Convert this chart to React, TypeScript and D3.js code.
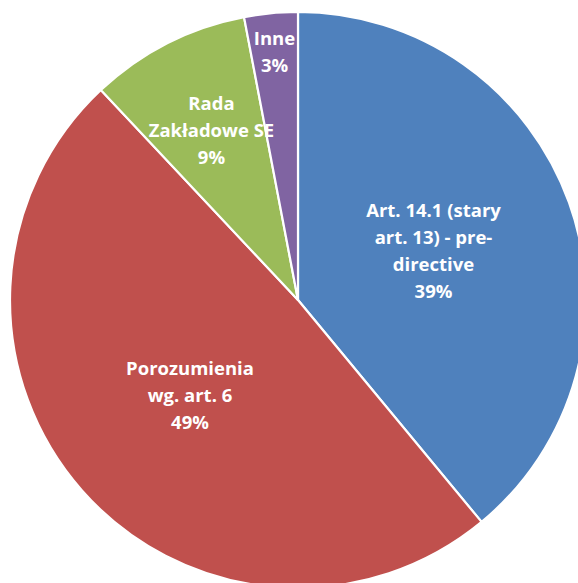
import React from "react";
import * as d3 from "d3";

// ---- data ----
const categories = [
  "Art. 14.1 (stary art. 13) - pre-directive",
  "Porozumienia wg. art. 6",
  "Rada Zakładowe SE",
  "Inne",
];
const values = [39, 49, 9, 3];
const labelLines = [
  ["Art. 14.1 (stary", "art. 13) - pre-", "directive"],
  ["Porozumienia", "wg. art. 6"],
  ["Rada", "Zakładowe SE"],
  ["Inne"],
];

// ---- style / layout ----
const colors = ["#4F81BD", "#C0504D", "#9BBB59", "#8064A2"];
const labelRadiusFraction = [0.5, 0.5, 0.662, 0.867];
const W = 578;
const H = 583;
const CX = 298;
const CY = 300;
const R = 288;
const LINE_H = 27;

export default function App() {
  const total = d3.sum(values);
  const pie = d3
    .pie<number>()
    .sort(null)
    .value((d) => d)
    .startAngle(0)
    .endAngle(2 * Math.PI);
  const arcs = pie(values);
  const arcGen = d3.arc<d3.PieArcDatum<number>>().innerRadius(0).outerRadius(R);
  const fmt = d3.format(".0%");

  return (
    <svg
      width={W}
      height={H}
      style={{ position: "absolute", left: 0, top: 0, display: "block" }}
      fontFamily="'Open Sans', sans-serif"
    >
      <rect width={W} height={H} fill="#ffffff" />
      <g transform={`translate(${CX},${CY})`}>
        {arcs.map((a, i) => (
          <path
            key={categories[i]}
            d={arcGen(a) || ""}
            fill={colors[i]}
            stroke="#ffffff"
            strokeWidth={2.2}
            strokeLinejoin="round"
          />
        ))}
        {arcs.map((a, i) => {
          const r = R * labelRadiusFraction[i];
          const [x, y] = d3.arc<d3.PieArcDatum<number>>().innerRadius(r).outerRadius(r).centroid(a);
          const lines = [...labelLines[i], fmt(values[i] / total)];
          const n = lines.length;
          return (
            <text
              key={"l" + categories[i]}
              x={x}
              y={y}
              fill="#ffffff"
              fontSize={18.5}
              fontWeight={700}
              textAnchor="middle"
            >
              {lines.map((t, j) => (
                <tspan key={j} x={x} y={y + (j - (n - 1) / 2) * LINE_H} dy="0.36em">
                  {t}
                </tspan>
              ))}
            </text>
          );
        })}
      </g>
    </svg>
  );
}
